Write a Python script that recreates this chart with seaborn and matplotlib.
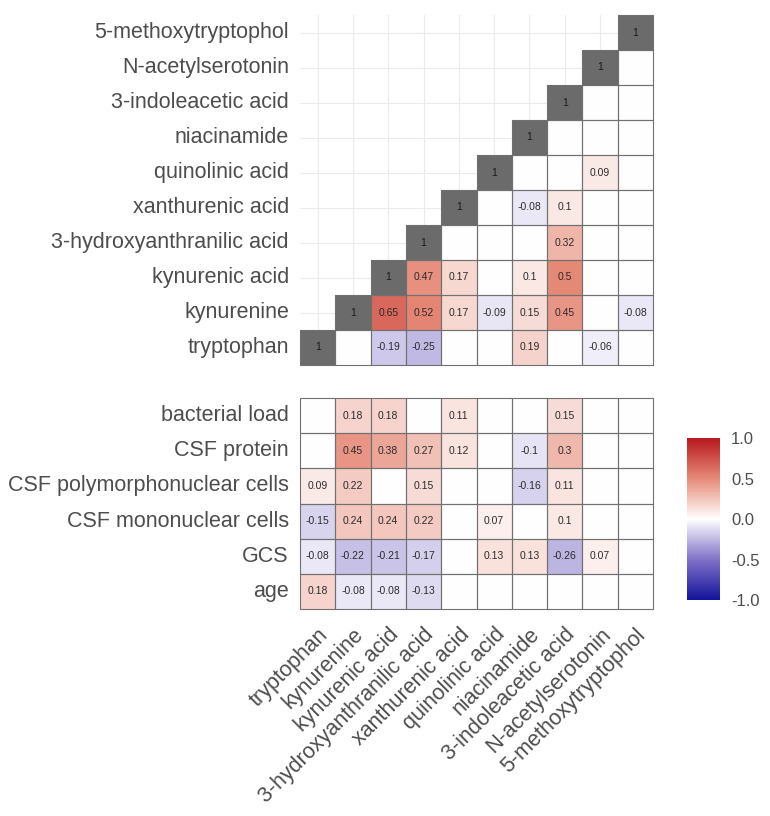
import matplotlib
matplotlib.use("Agg")
import matplotlib.pyplot as plt
from matplotlib.colors import LinearSegmentedColormap, ListedColormap
import numpy as np
import pandas as pd
import seaborn as sns

nan = np.nan

METABOLITES = [
    "tryptophan", "kynurenine", "kynurenic acid", "3-hydroxyanthranilic acid",
    "xanthurenic acid", "quinolinic acid", "niacinamide", "3-indoleacetic acid",
    "N-acetylserotonin", "5-methoxytryptophol",
]
CLINICAL = [
    "bacterial load", "CSF protein", "CSF polymorphonuclear cells",
    "CSF mononuclear cells", "GCS", "age",
]

# Significant correlations only (NaN = not significant). Rows follow METABOLITES.
METAB_CORR = [
    [1, nan, -0.19, -0.25, nan, nan, 0.19, nan, -0.06, nan],
    [nan, 1, 0.65, 0.52, 0.17, -0.09, 0.15, 0.45, nan, -0.08],
    [nan, nan, 1, 0.47, 0.17, nan, 0.1, 0.5, nan, nan],
    [nan, nan, nan, 1, nan, nan, nan, 0.32, nan, nan],
    [nan, nan, nan, nan, 1, nan, -0.08, 0.1, nan, nan],
    [nan, nan, nan, nan, nan, 1, nan, nan, 0.09, nan],
    [nan, nan, nan, nan, nan, nan, 1, nan, nan, nan],
    [nan, nan, nan, nan, nan, nan, nan, 1, nan, nan],
    [nan, nan, nan, nan, nan, nan, nan, nan, 1, nan],
    [nan, nan, nan, nan, nan, nan, nan, nan, nan, 1],
]

# Rows follow CLINICAL, columns follow METABOLITES.
CLIN_CORR = [
    [nan, 0.18, 0.18, nan, 0.11, nan, nan, 0.15, nan, nan],
    [nan, 0.45, 0.38, 0.27, 0.12, nan, -0.1, 0.3, nan, nan],
    [0.09, 0.22, nan, 0.15, nan, nan, -0.16, 0.11, nan, nan],
    [-0.15, 0.24, 0.24, 0.22, nan, 0.07, nan, 0.1, nan, nan],
    [-0.08, -0.22, -0.21, -0.17, nan, 0.13, 0.13, -0.26, 0.07, nan],
    [0.18, -0.08, -0.08, -0.13, nan, nan, nan, nan, nan, nan],
]

CBAR_TICKS = [-1.0, -0.5, 0.0, 0.5, 1.0]

TEXT_COLOR = "#4D4D4D"
EDGE_COLOR = "#707070"
DIAG_COLOR = "#6B6B6B"
ANNOT = {"size": 7.5, "color": "#2B2B2B"}

cmap = LinearSegmentedColormap.from_list(
    "corr",
    [(0.0, "#14149A"), (0.25, "#8072C8"), (0.5, "#FFFFFF"), (0.75, "#E68A78"), (1.0, "#B8181F")],
)


def cell_labels(df: pd.DataFrame) -> np.ndarray:
    return df.map(lambda v: "" if pd.isna(v) else f"{v:g}").values


def outline_cells(ax, keep: np.ndarray) -> None:
    # thin grey border around every drawn tile
    for i, j in zip(*np.nonzero(keep)):
        ax.add_patch(plt.Rectangle((j, i), 1, 1, fill=False, clip_on=False,
                                   edgecolor=EDGE_COLOR, lw=0.8, zorder=3))


sns.set_theme(style="white")
plt.rcParams["font.family"] = ["Liberation Sans", "DejaVu Sans"]

fig = plt.figure(figsize=(7.7, 8.16), dpi=100)
ax_top = fig.add_axes([300 / 770, 1 - 365 / 816, 353 / 770, 350 / 816])
ax_bot = fig.add_axes([300 / 770, 1 - 609 / 816, 353 / 770, 211 / 816])
cax = fig.add_axes([687 / 770, 1 - 600 / 816, 33 / 770, 162 / 816])

# ---- metabolite x metabolite triangle ----
top = pd.DataFrame(METAB_CORR, index=METABOLITES, columns=METABOLITES).iloc[::-1]
n = len(METABOLITES)
row_pos = np.array([METABOLITES.index(r) for r in top.index])[:, None]
col_pos = np.arange(n)[None, :]
below = col_pos < row_pos
diag = col_pos == row_pos
annot_top = cell_labels(top)

sns.heatmap(
    top.fillna(0), mask=below | diag, cmap=cmap, vmin=-1, vmax=1,
    annot=annot_top, fmt="", annot_kws=ANNOT,
    linewidths=0, cbar=False, ax=ax_top,
)
sns.heatmap(
    top.fillna(0), mask=~diag, cmap=ListedColormap([DIAG_COLOR]),
    annot=annot_top, fmt="", annot_kws={**ANNOT, "color": "#1A1A1A"},
    linewidths=0, cbar=False, ax=ax_top,
)
outline_cells(ax_top, ~below)

ax_top.set_xticks(np.arange(n) + 0.5)
ax_top.set_xticklabels([])
ax_top.set_yticks(np.arange(n) + 0.5)
ax_top.set_yticklabels(top.index, rotation=0)
ax_top.grid(True, color="#EBEBEB", lw=0.8)
ax_top.set_axisbelow(True)
ax_top.tick_params(length=0, pad=8, labelsize=15.5, labelcolor=TEXT_COLOR)
ax_top.set_xlabel("")
ax_top.set_ylabel("")

# ---- clinical x metabolite block ----
bot = pd.DataFrame(CLIN_CORR, index=CLINICAL, columns=METABOLITES)
sns.heatmap(
    bot.fillna(0), cmap=cmap, vmin=-1, vmax=1,
    annot=cell_labels(bot), fmt="", annot_kws=ANNOT,
    linewidths=0, cbar_ax=cax, ax=ax_bot,
)
outline_cells(ax_bot, np.ones(bot.shape, dtype=bool))
ax_bot.set_yticklabels(CLINICAL, rotation=0)
ax_bot.set_xticklabels(METABOLITES, rotation=45, ha="right", va="top",
                       rotation_mode="anchor")
ax_bot.tick_params(axis="y", length=0, pad=8, labelsize=15.5, labelcolor=TEXT_COLOR)
ax_bot.tick_params(axis="x", length=0, pad=11, labelsize=15.5, labelcolor=TEXT_COLOR)
ax_bot.set_xlabel("")
ax_bot.set_ylabel("")

cbar = ax_bot.collections[0].colorbar
cbar.set_ticks(CBAR_TICKS)
cbar.set_ticklabels([f"{t:.1f}" for t in CBAR_TICKS])
cbar.outline.set_visible(False)
cax.tick_params(left=True, right=True, direction="in", color="white",
                length=5, width=0.8, labelsize=12, labelcolor=TEXT_COLOR, pad=8)

fig.savefig("out.png", dpi=100)
